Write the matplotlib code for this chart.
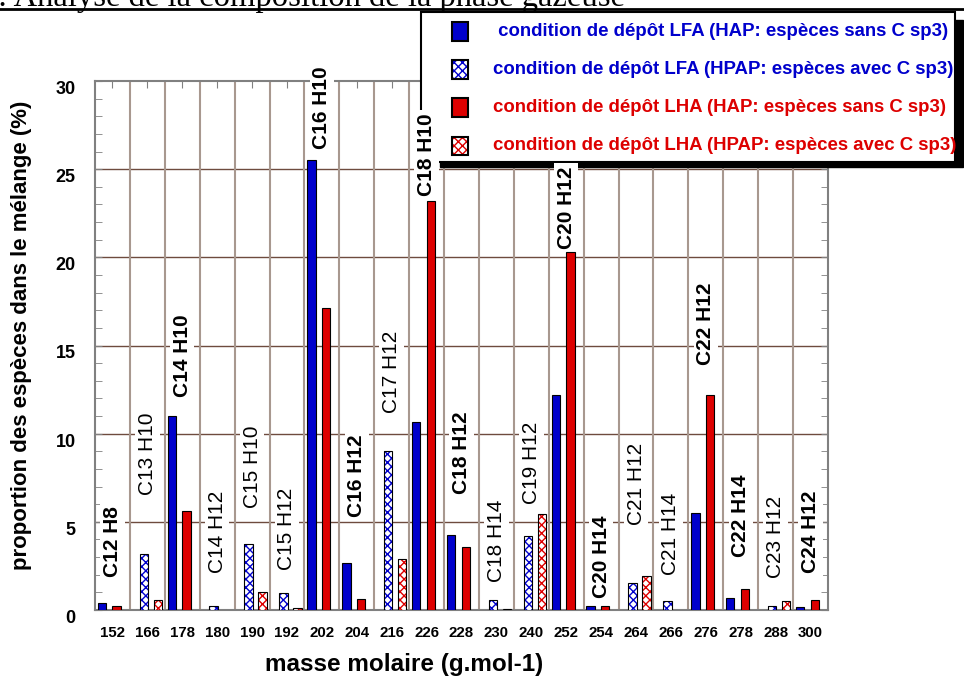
import numpy as np
import matplotlib.pyplot as plt
from matplotlib.patches import Rectangle
from matplotlib.lines import Line2D

plt.rcParams['font.family'] = ['Liberation Sans', 'DejaVu Sans']
plt.rcParams['hatch.linewidth'] = 1.0

# masses molaires (g/mol) and species found at each mass
masses = ['152', '166', '178', '180', '190', '192', '202', '204', '216', '226', '228',
          '230', '240', '252', '254', '264', '266', '276', '278', '288', '300']
species = ['C12 H8', 'C13 H10', 'C14 H10', 'C14 H12', 'C15 H10', 'C15 H12', 'C16 H10',
           'C16 H12', 'C17 H12', 'C18 H10', 'C18 H12', 'C18 H14', 'C19 H12', 'C20 H12',
           'C20 H14', 'C21 H12', 'C21 H14', 'C22 H12', 'C22 H14', 'C23 H12', 'C24 H12']

# proportion (%) for each condition
lfa_hap = [0.41, 0, 11.0, 0, 0, 0, 25.5, 2.68, 0, 10.66, 4.28,
           0, 0, 12.2, 0.23, 0, 0, 5.49, 0.7, 0, 0.15]
lfa_hpap = [0, 3.2, 0, 0.23, 3.72, 0.94, 0, 0, 9.02, 0, 0,
            0.57, 4.19, 0, 0, 1.53, 0.53, 0, 0, 0.25, 0]
lha_hap = [0.25, 0, 5.6, 0, 0, 0, 17.15, 0.6, 0, 23.2, 3.6,
           0, 0, 20.3, 0.23, 0, 0, 12.17, 1.21, 0, 0.55]
lha_hpap = [0, 0.57, 0, 0, 1.04, 0.1, 0, 0, 2.92, 0, 0,
            0.08, 5.47, 0, 0, 1.94, 0, 0, 0, 0.53, 0]

# where each species name sits (bottom of the rotated text, in %)
label_y = [1.87, 6.5, 12.1, 2.1, 5.8, 2.26, 26.15, 5.26, 11.2, 23.5, 6.6,
           1.58, 6.0, 20.5, 0.68, 4.8, 1.98, 13.9, 3.0, 1.8, 2.1]

series_names = [' condition de dépôt LFA (HAP: espèces sans C sp3)',
                'condition de dépôt LFA (HPAP: espèces avec C sp3)',
                'condition de dépôt LHA (HAP: espèces sans C sp3)',
                'condition de dépôt LHA (HPAP: espèces avec C sp3)']
title_text = ': Analyse de la composition de la phase gazeuse'
xlabel = 'masse molaire (g.mol-1)'
ylabel = 'proportion des espèces dans le mélange (%)'

blue = '#0000cc'
red = '#dd0000'
W, H = 964, 680


def fx(px):
    return px / W


def fy(py):
    return 1 - py / H


fig = plt.figure(figsize=(W / 100, H / 100), dpi=100)
ax = fig.add_axes([fx(95), fy(610), (828 - 95) / W, (610 - 81) / H])

x = np.arange(len(masses))
width = 0.24
styles = [(lfa_hap, blue, False, -0.3), (lfa_hpap, blue, True, -0.1),
          (lha_hap, red, False, 0.12), (lha_hpap, red, True, 0.3)]

for vals, color, hatched, off in styles:
    v = np.array(vals)
    m = v > 0
    if hatched:
        ax.bar(x[m] + off, v[m], width, color='white', edgecolor=color,
               hatch='xxxx', linewidth=0, zorder=3)
        ax.bar(x[m] + off, v[m], width, fill=False, edgecolor='black',
               linewidth=0.8, zorder=3.1)
    else:
        ax.bar(x[m] + off, v[m], width, color=color, edgecolor='black',
               linewidth=0.8, zorder=3)

# grid: brown horizontal lines, greyish lines between masses
for yv in range(5, 30, 5):
    ax.axhline(yv, color='#6e4b3e', lw=1, zorder=1)
for xv in x[:-1] + 0.5:
    ax.axvline(xv, color='#a8988f', lw=1.5, zorder=1)

# species names above the bars
for i, name in enumerate(species):
    bold = lfa_hap[i] > 0 or lha_hap[i] > 0
    ax.text(x[i], label_y[i], name, rotation=90, ha='center', va='bottom',
            fontsize=15, fontweight='bold' if bold else 'normal',
            bbox=dict(fc='white', ec='none', pad=2), zorder=6, clip_on=False)

ax.set_xlim(-0.5, len(masses) - 0.5)
ax.set_ylim(0, 30)
ax.set_xticks(x)
ax.set_xticklabels(masses, fontsize=10.8, fontweight='bold')
ax.set_yticks(range(0, 31, 5))
ax.set_yticklabels([str(v) for v in range(0, 31, 5)], fontsize=13,
                   fontweight='bold', va='top')
ax.set_yticks(range(0, 31), minor=True)
ax.tick_params(axis='x', direction='in', top=True, bottom=False, length=5,
               pad=11.5, color='#808080')
ax.tick_params(axis='y', which='both', direction='in', left=True, right=True,
               length=5, pad=14, color='#808080')
for s in ax.spines.values():
    s.set_color('#808080')
    s.set_linewidth(1.5)

fig.text(fx(404), fy(665), xlabel, fontsize=17.5, fontweight='bold',
         ha='center', va='center')
fig.text(fx(22), fy(335), ylabel, fontsize=16, fontweight='bold',
         rotation=90, ha='center', va='center')

# title cut at the top, underlined
fig.text(fx(-2), fy(6), title_text, family=['Liberation Serif'], fontsize=23.5,
         ha='left', va='baseline')
fig.add_artist(Line2D([0, 1], [fy(8.5), fy(8.5)], transform=fig.transFigure,
                      color='black', lw=2))

# legend box with its shadow, drawn over the plot but under the names
tf = fig.transFigure
ax.add_artist(Rectangle((fx(440), fy(167)), (963 - 440) / W, (167 - 20) / H,
                        transform=tf, color='black', zorder=4, clip_on=False))
ax.add_artist(Rectangle((fx(421), fy(162)), (955 - 421) / W, (162 - 12) / H,
                        transform=tf, fc='white', ec='black', lw=1.5,
                        zorder=4.1, clip_on=False))
rows = [31.5, 69.5, 107.5, 145.5]
for (vals, color, hatched, off), name, ry in zip(styles, series_names, rows):
    if hatched:
        ax.add_artist(Rectangle((fx(452), fy(ry + 9)), 16 / W, 18 / H,
                                transform=tf, fc='white', ec=color,
                                hatch='xxxx', lw=0, zorder=4.2, clip_on=False))
        ax.add_artist(Rectangle((fx(452), fy(ry + 9)), 16 / W, 18 / H,
                                transform=tf, fill=False, ec='black', lw=1.5,
                                zorder=4.3, clip_on=False))
    else:
        ax.add_artist(Rectangle((fx(452), fy(ry + 9)), 16 / W, 18 / H,
                                transform=tf, fc=color, ec='black', lw=1.5,
                                zorder=4.2, clip_on=False))
    ax.text(fx(493), fy(ry), name, transform=tf, color=color, fontsize=13.4,
            fontweight='bold', ha='left', va='center', zorder=5, clip_on=False)

fig.savefig('out.png', dpi=100)
